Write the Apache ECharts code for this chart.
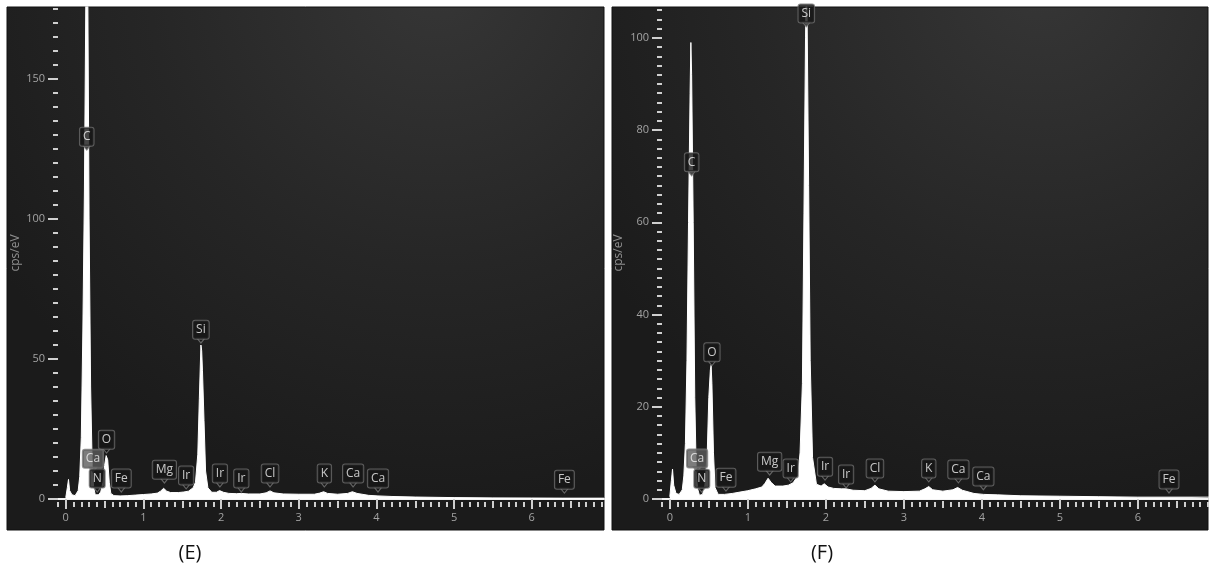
<!DOCTYPE html>
<html><head><meta charset="utf-8">
<script src="https://cdn.jsdelivr.net/npm/echarts@6/dist/echarts.min.js"></script>
<style>html,body{margin:0;padding:0;background:#fff}#c{width:1210px;height:572px}</style>
</head><body><div id="c"></div><script>
// ---- data (keV vs cps/eV) ----
const energy = [0.00,0.02,0.035,0.05,0.08,0.12,0.16,0.18,0.20,0.22,0.24,0.26,0.27,0.28,0.30,0.32,0.34,0.36,0.38,0.40,0.42,0.45,0.48,0.50,0.52,0.53,0.54,0.56,0.58,0.62,0.70,0.80,0.90,1.00,1.10,1.18,1.22,1.26,1.30,1.35,1.45,1.52,1.58,1.64,1.67,1.70,1.72,1.74,1.75,1.76,1.78,1.80,1.83,1.88,1.94,1.98,2.03,2.10,2.20,2.26,2.35,2.50,2.58,2.63,2.68,2.80,3.00,3.20,3.27,3.32,3.37,3.50,3.63,3.69,3.75,3.90,4.02,4.20,4.50,5.00,5.50,6.00,6.40,6.93];
const cpsE = [0.5,4,7,3,1.5,1.2,3,8,22,60,110,185,215,200,100,40,12,4,1.5,1,1.5,2.5,6,12,15.5,16,14,6,2,1.2,1.1,1.2,1.4,1.6,1.8,2.1,2.8,3.8,2.8,2.3,2.3,2.5,2.8,4,6,16,36,55,53,46,28,10,4,2.4,2.4,3.0,2.4,2.0,1.9,2.0,1.8,1.8,2.2,2.9,2.2,1.8,1.7,1.7,2.1,2.6,2.0,1.7,2.0,2.6,2.0,1.3,1.1,0.9,0.7,0.5,0.4,0.35,0.3,0.3];
const cpsF = [0.5,4,6.5,3,1.2,1.0,2,5,12,30,60,88,99,92,60,22,5,2,0.8,0.6,1.0,3,10,22,28,29,25,10,2.5,1.0,1.0,1.2,1.5,1.8,2.2,2.6,3.4,4.5,3.6,2.8,2.8,3.0,3.5,5,10,25,62,100,112,105,68,30,9,3.2,2.8,3.3,2.6,2.3,2.2,2.2,1.9,1.8,2.3,3.0,2.2,1.7,1.6,1.7,2.2,2.7,2.0,1.7,2.0,2.5,1.9,1.2,1.0,0.9,0.7,0.6,0.5,0.4,0.4,0.4];

const xTickLabels = [0,1,2,3,4,5,6];
const yTickLabelsE = [0,50,100,150];
const yTickLabelsF = [0,20,40,60,80,100];

const labelNamesE = ['C','Si','O','Ca','N','Fe','Mg','Ir','Ir','Ir','Cl','K','Ca','Ca','Fe'];
const labelKeVE   = [0.27,1.74,0.525,0.35,0.405,0.715,1.27,1.55,1.985,2.26,2.63,3.33,3.70,4.02,6.42];
const labelTipE   = [124.6,55.7,16.4,9.6,2.5,2.5,5.7,3.6,4.3,2.5,4.3,4.3,4.3,2.5,2.1];

const labelNamesF = ['C','Si','O','Ca','N','Fe','Mg','Ir','Ir','Ir','Cl','K','Ca','Ca','Fe'];
const labelKeVF   = [0.28,1.75,0.54,0.35,0.41,0.72,1.28,1.55,1.99,2.26,2.63,3.32,3.70,4.02,6.40];
const labelTipF   = [70.1,102.4,28.9,5.9,1.5,1.7,5.2,3.7,4.1,2.4,3.7,3.7,3.5,2.0,1.3];

// ---- helpers ----
function steps(a, b, s) { const r = []; for (let v = a; v <= b + 1e-9; v += s) r.push(Math.round(v * 100) / 100); return r; }
const tickColor = '#cfcfcf', labelColor = '#a3a3a3';

function xAxes(gi, xmax) {
  const half = steps(0.5, xmax, 1);
  const minor = steps(-0.1, xmax, 0.1).filter(v => Math.abs(v * 2 - Math.round(v * 2)) > 1e-6);
  const base = { gridIndex: gi, type: 'value', min: -0.1, max: xmax, position: 'bottom', splitLine: { show: false } };
  return [
    Object.assign({}, base, { axisLine: { show: true, onZero: false, lineStyle: { color: '#f4f4f4', width: 2 } },
      axisTick: { show: true, customValues: xTickLabels, length: 10, lineStyle: { color: tickColor, width: 2 } },
      axisLabel: { show: true, customValues: xTickLabels, margin: 13, color: labelColor, fontSize: 11, fontFamily: 'Open Sans' } }),
    Object.assign({}, base, { offset: 2, axisLine: { show: false, onZero: false },
      axisTick: { show: true, customValues: half, length: 7, lineStyle: { color: tickColor, width: 2 } }, axisLabel: { show: false } }),
    Object.assign({}, base, { offset: 3, axisLine: { show: false, onZero: false },
      axisTick: { show: true, customValues: minor, length: 5, lineStyle: { color: tickColor, width: 2 } }, axisLabel: { show: false } })
  ];
}
function yAxes(gi, ymax, majors, minorStep, nameGap) {
  const minor = steps(0, ymax, minorStep).filter(v => majors.indexOf(v) < 0);
  const base = { gridIndex: gi, type: 'value', min: 0, max: ymax, position: 'left', splitLine: { show: false } };
  return [
    Object.assign({}, base, { axisLine: { show: false, onZero: false },
      axisTick: { show: true, customValues: majors, length: 10, lineStyle: { color: tickColor, width: 2 } },
      axisLabel: { show: true, customValues: majors, margin: 13, color: labelColor, fontSize: 11, fontFamily: 'Open Sans' },
      name: 'cps/eV', nameLocation: 'middle', nameGap: nameGap, nameRotate: 90,
      nameTextStyle: { color: '#8e8e8e', fontSize: 12, fontFamily: 'Open Sans' } }),
    Object.assign({}, base, { axisLine: { show: false, onZero: false },
      axisTick: { show: true, customValues: minor, length: 5, lineStyle: { color: tickColor, width: 2 } }, axisLabel: { show: false } })
  ];
}
function areaSeries(xi, yi, vals) {
  return { type: 'line', xAxisIndex: xi, yAxisIndex: yi, data: energy.map((e, i) => [e, vals[i]]),
    symbol: 'none', lineStyle: { color: '#ffffff', width: 1 }, areaStyle: { color: '#ffffff', opacity: 1 },
    clip: true, z: 3, silent: true };
}
function labelSeries(xi, yi, names, kev, tips) {
  return { type: 'scatter', xAxisIndex: xi, yAxisIndex: yi, z: 6, clip: false, silent: true,
    symbol: 'triangle', symbolRotate: 180, symbolSize: [8, 5], symbolOffset: [0, -2.5],
    itemStyle: { color: '#161616', borderColor: '#777', borderWidth: 1 },
    label: { show: true, position: 'top', distance: -1, formatter: '{b}', color: '#f2f2f2', fontSize: 12,
      lineHeight: 14, fontFamily: 'Open Sans', backgroundColor: '#161616', borderColor: '#6f6f6f', borderWidth: 1,
      borderRadius: 2, padding: [2, 3, 2, 3] },
    data: names.map((n, i) => {
      const d = { name: n, value: [kev[i], tips[i]] };
      if (i === 3) { // grey Ca L marker
        d.itemStyle = { color: '#5b5b5b', borderColor: '#7a7a7a' };
        d.label = { backgroundColor: '#5b5b5b', borderColor: '#7a7a7a' };
      }
      return d;
    }) };
}
function panelBg(x, w) {
  return { type: 'rect', z: -10, silent: true, shape: { x: x, y: 7, width: w, height: 523 },
    style: { fill: { type: 'radial', x: 0.72, y: -0.05, r: 1.0,
      colorStops: [{ offset: 0, color: '#363636' }, { offset: 0.55, color: '#262626' }, { offset: 1, color: '#1b1b1b' }] },
      stroke: '#111', lineWidth: 1 } };
}

const chart = echarts.init(document.getElementById('c'), null, { renderer: 'canvas' });
chart.setOption({
  backgroundColor: '#ffffff',
  animation: false,
  graphic: [
    panelBg(7, 597), panelBg(612, 596),
    { type: 'text', silent: true, x: 190, y: 553, style: { text: '(E)', fill: '#111', fontSize: 20, fontFamily: 'Open Sans', align: 'center', verticalAlign: 'middle' } },
    { type: 'text', silent: true, x: 822, y: 553, style: { text: '(F)', fill: '#111', fontSize: 20, fontFamily: 'Open Sans', align: 'center', verticalAlign: 'middle' } }
  ],
  grid: [
    { left: 58, top: 7, width: 546, height: 492, outerBoundsMode: 'none', containLabel: false },
    { left: 662, top: 7, width: 546, height: 492, outerBoundsMode: 'none', containLabel: false }
  ],
  xAxis: [].concat(xAxes(0, 6.93), xAxes(1, 6.9)),
  yAxis: [].concat(yAxes(0, 175.7, yTickLabelsE, 5, 36), yAxes(1, 106.7, yTickLabelsF, 2, 37)),
  series: [
    areaSeries(0, 0, cpsE),
    areaSeries(3, 2, cpsF),
    labelSeries(0, 0, labelNamesE, labelKeVE, labelTipE),
    labelSeries(3, 2, labelNamesF, labelKeVF, labelTipF)
  ]
});
</script></body></html>
